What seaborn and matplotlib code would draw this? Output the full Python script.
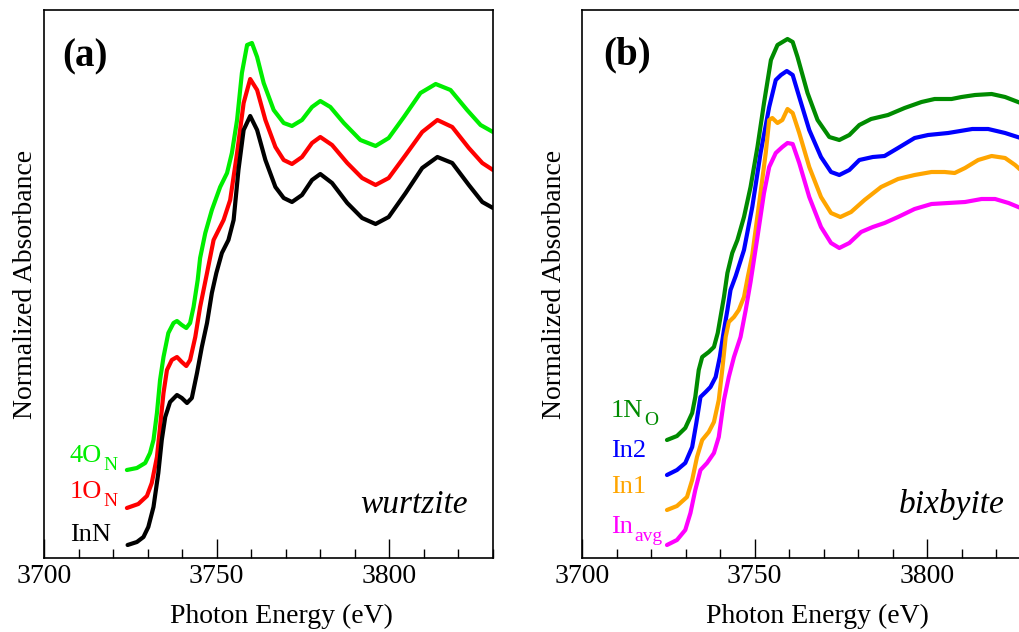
import numpy as np
import pandas as pd
import matplotlib
matplotlib.use("Agg")
import matplotlib.pyplot as plt
import seaborn as sns
from matplotlib.ticker import MultipleLocator

# ---------------- data (panel a: wurtzite) ----------------
e_4ON = [3724.0, 3726.9, 3729.3, 3730.7, 3731.7, 3732.7, 3733.6, 3734.6, 3736.0, 3737.5,
         3738.5, 3739.9, 3741.2, 3742.3, 3743.3, 3744.5, 3745.2, 3746.7, 3748.6, 3751.0,
         3753.0, 3754.4, 3755.9, 3757.3, 3758.8, 3760.2, 3761.7, 3763.6, 3766.5, 3769.4,
         3771.8, 3774.7, 3777.6, 3780.0, 3782.9, 3786.8, 3791.6, 3796.0, 3799.8, 3804.2,
         3809.0, 3813.4, 3817.7, 3822.5, 3826.4, 3830.0]
a_4ON = [0.88, 0.90, 0.95, 1.05, 1.18, 1.45, 1.78, 2.01, 2.25, 2.35,
         2.37, 2.33, 2.30, 2.35, 2.51, 2.78, 3.00, 3.25, 3.48, 3.71,
         3.85, 4.05, 4.38, 4.85, 5.13, 5.15, 5.01, 4.75, 4.48, 4.35,
         4.32, 4.38, 4.51, 4.57, 4.51, 4.35, 4.18, 4.12, 4.20, 4.41,
         4.65, 4.74, 4.68, 4.48, 4.33, 4.26]

e_1ON = [3724.0, 3727.3, 3729.8, 3731.2, 3732.7, 3733.6, 3734.6, 3735.6, 3737.0, 3738.5,
         3739.9, 3741.2, 3742.3, 3743.8, 3745.2, 3747.2, 3749.1, 3752.0, 3753.9, 3755.9,
         3757.8, 3759.7, 3761.7, 3764.1, 3767.0, 3769.4, 3771.8, 3774.7, 3777.6, 3780.0,
         3783.4, 3787.8, 3792.1, 3796.0, 3799.8, 3804.7, 3809.5, 3813.9, 3818.2, 3823.0,
         3826.9, 3830.0]
a_1ON = [0.50, 0.54, 0.62, 0.75, 1.01, 1.31, 1.65, 1.88, 1.98, 2.01,
         1.96, 1.92, 1.98, 2.21, 2.51, 2.85, 3.18, 3.38, 3.58, 4.05,
         4.55, 4.79, 4.68, 4.38, 4.11, 3.98, 3.94, 4.01, 4.15, 4.21,
         4.13, 3.95, 3.80, 3.73, 3.80, 4.03, 4.26, 4.38, 4.31, 4.10,
         3.95, 3.88]

e_InN = [3724.2, 3726.9, 3728.8, 3730.2, 3731.7, 3733.1, 3734.1, 3735.1, 3736.5, 3738.5,
         3739.9, 3741.4, 3742.8, 3744.3, 3745.7, 3747.2, 3748.6, 3749.9, 3751.5, 3753.4,
         3754.9, 3756.3, 3757.8, 3759.7, 3761.7, 3764.1, 3767.0, 3769.4, 3771.8, 3774.7,
         3777.6, 3780.0, 3783.4, 3787.8, 3792.1, 3796.0, 3799.8, 3804.7, 3809.5, 3813.9,
         3818.2, 3823.0, 3826.9, 3830.0]
a_InN = [0.13, 0.16, 0.21, 0.31, 0.51, 0.85, 1.18, 1.41, 1.56, 1.63,
         1.60, 1.55, 1.60, 1.85, 2.11, 2.35, 2.65, 2.85, 3.05, 3.18,
         3.38, 3.88, 4.28, 4.42, 4.28, 3.98, 3.71, 3.60, 3.56, 3.63,
         3.78, 3.84, 3.75, 3.55, 3.40, 3.34, 3.41, 3.65, 3.90, 4.01,
         3.95, 3.73, 3.56, 3.50]

# ---------------- data (panel b: bixbyite) ----------------
e_1NO = [3724.6, 3727.5, 3729.9, 3731.9, 3732.8, 3733.8, 3734.8, 3736.7, 3738.2, 3739.3,
         3740.1, 3741.1, 3742.1, 3743.5, 3745.0, 3746.9, 3748.8, 3750.8, 3752.7, 3754.7,
         3756.6, 3759.5, 3761.0, 3762.4, 3765.3, 3768.2, 3771.6, 3774.5, 3777.4, 3780.3,
         3783.7, 3788.6, 3793.4, 3798.3, 3802.1, 3807.0, 3809.9, 3813.8, 3818.6, 3822.5,
         3827.0]
a_1NO = [1.18, 1.22, 1.30, 1.45, 1.61, 1.88, 2.01, 2.06, 2.11, 2.25,
         2.41, 2.61, 2.85, 3.05, 3.18, 3.41, 3.71, 4.11, 4.55, 4.98,
         5.13, 5.19, 5.16, 5.01, 4.65, 4.38, 4.21, 4.18, 4.23, 4.33,
         4.39, 4.43, 4.50, 4.56, 4.59, 4.59, 4.61, 4.63, 4.64, 4.61,
         4.55]

e_In2 = [3724.6, 3727.5, 3729.9, 3731.9, 3733.1, 3734.3, 3735.8, 3737.2, 3738.7, 3739.9,
         3741.1, 3742.1, 3743.0, 3744.5, 3746.9, 3749.3, 3751.7, 3754.2, 3756.1, 3757.6,
         3759.3, 3761.0, 3762.9, 3765.8, 3769.2, 3772.1, 3774.5, 3777.4, 3780.3, 3784.2,
         3787.6, 3791.5, 3796.3, 3800.2, 3806.0, 3813.0, 3817.6, 3822.5, 3827.0]
a_In2 = [0.83, 0.88, 0.95, 1.11, 1.35, 1.61, 1.66, 1.71, 1.81, 2.01,
         2.28, 2.48, 2.68, 2.82, 3.08, 3.51, 4.05, 4.51, 4.78, 4.83,
         4.87, 4.83, 4.61, 4.28, 4.01, 3.86, 3.83, 3.88, 3.98, 4.01,
         4.02, 4.10, 4.20, 4.23, 4.25, 4.29, 4.29, 4.25, 4.20]

e_In1 = [3724.6, 3727.5, 3730.4, 3731.9, 3733.3, 3734.8, 3736.7, 3738.2, 3739.6, 3740.6,
         3741.6, 3742.5, 3744.0, 3745.4, 3746.9, 3748.0, 3749.3, 3751.3, 3753.2, 3754.2,
         3755.1, 3756.6, 3758.0, 3759.5, 3761.0, 3762.9, 3765.8, 3769.2, 3772.1, 3774.8,
         3777.9, 3781.8, 3786.6, 3791.5, 3796.3, 3801.2, 3805.0, 3807.9, 3810.9, 3814.7,
         3818.6, 3822.5, 3825.4, 3827.0]
a_In1 = [0.48, 0.52, 0.61, 0.78, 1.01, 1.18, 1.26, 1.36, 1.58, 1.88,
         2.21, 2.36, 2.41, 2.48, 2.61, 2.81, 3.03, 3.55, 4.05, 4.38,
         4.40, 4.35, 4.38, 4.49, 4.45, 4.25, 3.91, 3.61, 3.45, 3.41,
         3.46, 3.58, 3.71, 3.79, 3.83, 3.86, 3.86, 3.85, 3.90, 3.98,
         4.02, 4.00, 3.93, 3.88]

e_Inavg = [3724.6, 3727.5, 3729.9, 3731.4, 3732.8, 3734.3, 3736.2, 3738.2, 3739.6, 3741.1,
           3742.5, 3744.0, 3745.9, 3747.4, 3748.8, 3750.8, 3752.7, 3754.2, 3756.1, 3758.0,
           3759.5, 3761.0, 3762.9, 3765.8, 3769.2, 3772.1, 3774.5, 3777.4, 3780.8, 3784.2,
           3787.6, 3791.5, 3796.3, 3801.2, 3806.0, 3810.9, 3815.7, 3819.6, 3823.5, 3827.0]
a_Inavg = [0.13, 0.18, 0.28, 0.45, 0.68, 0.88, 0.95, 1.05, 1.21, 1.58,
           1.81, 2.01, 2.21, 2.48, 2.76, 3.21, 3.65, 3.91, 4.05, 4.11,
           4.15, 4.14, 3.95, 3.61, 3.31, 3.15, 3.10, 3.15, 3.26, 3.31,
           3.35, 3.41, 3.49, 3.54, 3.55, 3.56, 3.59, 3.59, 3.55, 3.50]

# label = (main text, subscript)
labels_a = [("4O", "N"), ("1O", "N"), ("InN", "")]
labels_b = [("1N", "O"), ("In2", ""), ("In1", ""), ("In", "avg")]
colors_a = ["#00EE00", "#FF0000", "#000000"]
colors_b = ["#008B00", "#0000FF", "#FFA500", "#FF00FF"]
x_major = [3700, 3750, 3800]

# ---------------- style ----------------
sns.set_style("ticks")
plt.rcParams["font.family"] = ["Liberation Serif", "DejaVu Serif"]
for k in ["text.color", "axes.labelcolor", "xtick.color", "ytick.color", "axes.edgecolor"]:
    plt.rcParams[k] = "black"

W, H = 1019, 632
def fx(p):
    return p / W
def fy(p):
    return 1 - p / H

fig = plt.figure(figsize=(W / 100, H / 100), dpi=100)
axA = fig.add_axes([fx(44), fy(558), 449 / W, 548 / H])
axB = fig.add_axes([fx(582), fy(558), 449 / W, 548 / H])

series_a = [(e_4ON, a_4ON), (e_1ON, a_1ON), (e_InN, a_InN)]
series_b = [(e_1NO, a_1NO), (e_In2, a_In2), (e_In1, a_In1), (e_Inavg, a_Inavg)]

for ax, series, cols in [(axA, series_a, colors_a), (axB, series_b, colors_b)]:
    for (e, a), c in zip(series, cols):
        df = pd.DataFrame({"E": e, "A": a})
        sns.lineplot(data=df, x="E", y="A", ax=ax, color=c, lw=3.0,
                     estimator=None, legend=False, solid_joinstyle="round",
                     solid_capstyle="round")
    ax.set_xlim(3700, 3830)
    ax.set_ylim(0, 5.48)
    ax.set_xlabel("")
    ax.set_ylabel("")
    ax.set_xticks(x_major)
    ax.set_xticklabels([str(v) for v in x_major])
    ax.xaxis.set_minor_locator(MultipleLocator(10))
    ax.tick_params(axis="x", which="major", direction="in", length=13.5, width=1.0,
                   labelsize=20, pad=4, top=False, color="black", labelcolor="black")
    ax.tick_params(axis="x", which="minor", direction="in", length=6.5, width=1.0,
                   top=False, color="black")
    ax.tick_params(axis="y", which="both", left=False, right=False, labelleft=False)
    for s in ax.spines.values():
        s.set_visible(True)
        s.set_linewidth(1.2)
        s.set_color("black")
    ax.grid(False)

# axis titles
fig.text(fx(281), fy(623), "Photon Energy (eV)", ha="center", va="baseline", fontsize=20)
fig.text(fx(817), fy(623), "Photon Energy (eV)", ha="center", va="baseline", fontsize=20)
fig.text(fx(32), fy(284), "Normalized Absorbance", rotation=90, rotation_mode="anchor",
         ha="center", va="baseline", fontsize=20)
fig.text(fx(561), fy(284), "Normalized Absorbance", rotation=90, rotation_mode="anchor",
         ha="center", va="baseline", fontsize=20)

# panel tags and structure names
fig.text(fx(85), fy(57), "(a)", ha="center", va="center", fontsize=28, fontweight="bold")
fig.text(fx(627), fy(55), "(b)", ha="center", va="center", fontsize=28, fontweight="bold")
fig.text(fx(468), fy(513), "wurtzite", ha="right", va="baseline", fontsize=24, style="italic")
fig.text(fx(1005), fy(513), "bixbyite", ha="right", va="baseline", fontsize=24, style="italic")

# series labels with hand-placed subscripts
fig.canvas.draw()
renderer = fig.canvas.get_renderer()

def label(x_left, y_base, main, sub, color):
    t = fig.text(fx(x_left), fy(y_base), main, color=color, ha="left", va="baseline",
                 fontsize=19)
    if sub:
        bb = t.get_window_extent(renderer=renderer)
        fig.text(bb.x1 / W + 1 / W, fy(y_base + 8), sub, color=color, ha="left",
                 va="baseline", fontsize=14)

for (m, s), c, yb in zip(labels_a, colors_a, [462, 498, 541]):
    label(70, yb, m, s, c)
for (m, s), c, yb in zip(labels_b, colors_b, [417, 457, 493, 533]):
    label(611, yb, m, s, c)

fig.savefig("out.png", dpi=100)
